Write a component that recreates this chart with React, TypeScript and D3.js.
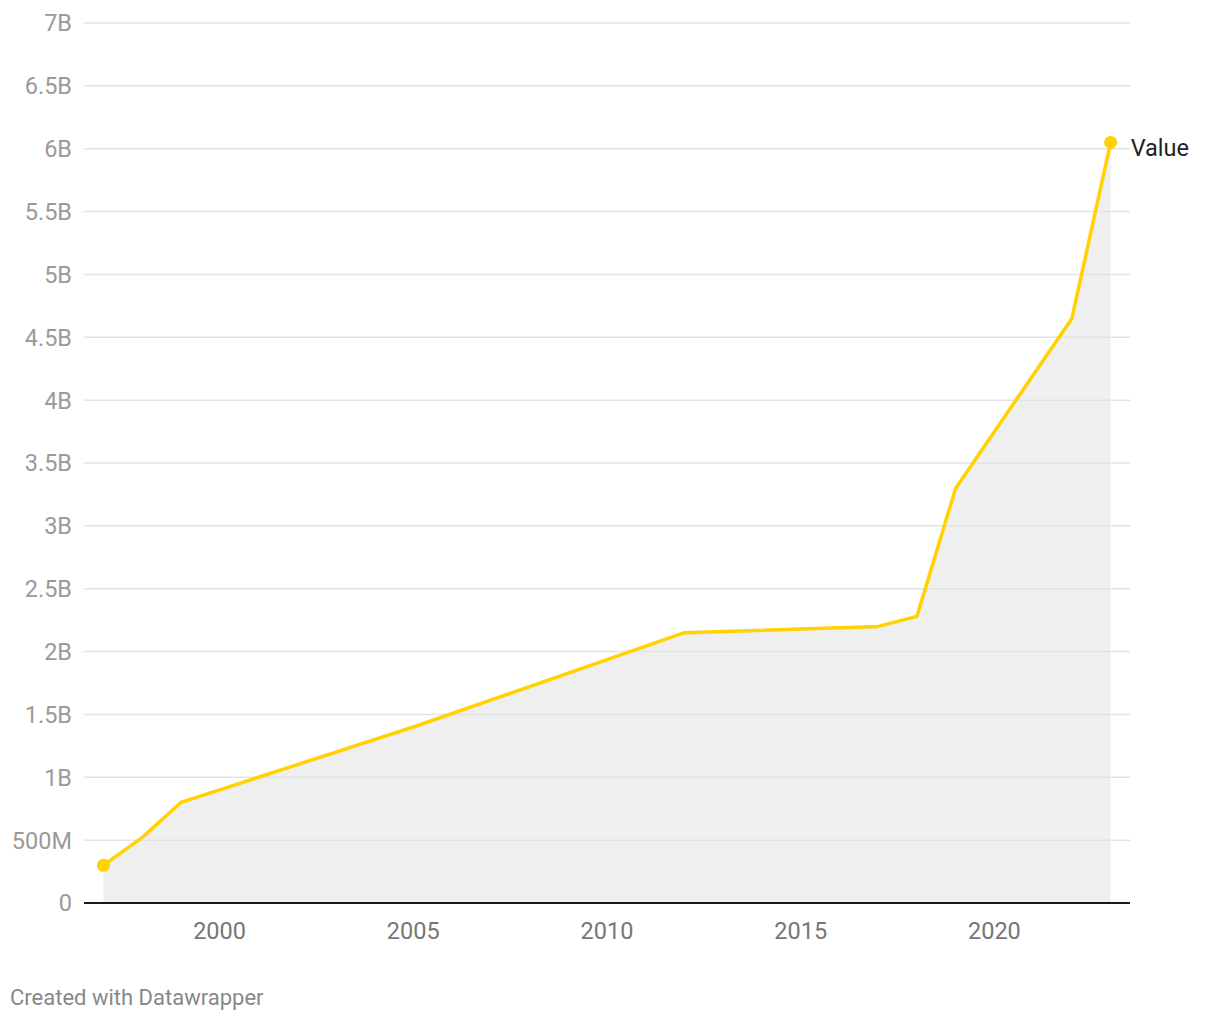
import React from "react";
import * as d3 from "d3";

const years = [1997, 1998, 1999, 2005, 2012, 2017, 2018, 2019, 2022, 2023];
const values = [0.3e9, 0.52e9, 0.8e9, 1.4e9, 2.15e9, 2.2e9, 2.28e9, 3.3e9, 4.65e9, 6.05e9];
const yTicks = [0, 0.5e9, 1e9, 1.5e9, 2e9, 2.5e9, 3e9, 3.5e9, 4e9, 4.5e9, 5e9, 5.5e9, 6e9, 6.5e9, 7e9];
const yTickLabels = ["0", "500M", "1B", "1.5B", "2B", "2.5B", "3B", "3.5B", "4B", "4.5B", "5B", "5.5B", "6B", "6.5B", "7B"];
const xTicks = [2000, 2005, 2010, 2015, 2020];
const seriesName = "Value";

export default function App() {
  const W = 1220, H = 1020;
  const left = 84, right = 1130, top = 23, bottom = 903;
  const x = d3.scaleLinear().domain([1996.5, 2023.5]).range([left, right]);
  const y = d3.scaleLinear().domain([0, 7e9]).range([bottom, top]);
  const data = years.map((yr, i) => ({ yr, v: values[i] }));
  const line = d3.line<any>().x(d => x(d.yr)).y(d => y(d.v));
  const area = d3.area<any>().x(d => x(d.yr)).y0(y(0)).y1(d => y(d.v));
  const first = data[0], last = data[data.length - 1];
  const font = "Roboto, 'Noto Sans', sans-serif";
  return (
    <svg width={W} height={H} style={{ position: "fixed", left: 0, top: 0, background: "#fff" }} fontFamily={font}>
      <path d={area(data) || ""} fill="#efefef" />
      {yTicks.map((t, i) => (
        <g key={t}>
          {t !== 0 && <line x1={left} x2={right} y1={y(t)} y2={y(t)} stroke="#e3e3e3" strokeWidth={1.5} />}
          <text x={72} y={y(t)} dy="0.36em" textAnchor="end" fontSize={23.5} fill="#9a9a9a">{yTickLabels[i]}</text>
        </g>
      ))}
      <line x1={left} x2={right} y1={bottom} y2={bottom} stroke="#1a1a1a" strokeWidth={2} />
      {xTicks.map(t => (
        <text key={t} x={x(t)} y={938.5} textAnchor="middle" fontSize={23.5} fill="#777">{t}</text>
      ))}
      <path d={line(data) || ""} fill="none" stroke="#ffd200" strokeWidth={3.5} strokeLinejoin="round" />
      <circle cx={x(first.yr)} cy={y(first.v)} r={6.5} fill="#ffd200" />
      <circle cx={x(last.yr)} cy={y(last.v)} r={6.5} fill="#ffd200" />
      <text x={x(last.yr) + 20} y={y(last.v) + 5} dy="0.36em" fontSize={23.5} fill="#222">{seriesName}</text>
      <text x={10} y={1005} fontSize={22} fill="#888">Created with Datawrapper</text>
    </svg>
  );
}
